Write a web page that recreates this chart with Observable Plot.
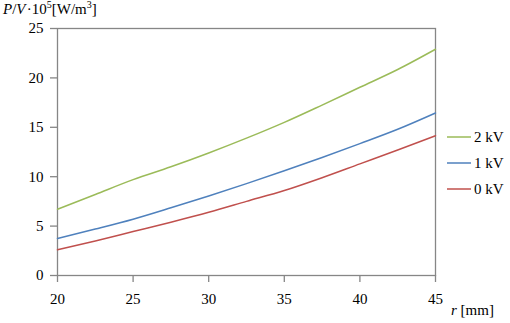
<!DOCTYPE html>
<html>
<head>
<meta charset="utf-8">
<script src="https://cdn.jsdelivr.net/npm/d3@7"></script>
<script src="https://cdn.jsdelivr.net/npm/@observablehq/plot@0.6"></script>
<style>
  html, body { margin: 0; padding: 0; background: #fff; }
  #wrap, #wrap * { font-family: "Liberation Serif", "Times New Roman", Times, serif !important; }
  #wrap { position: relative; width: 510px; height: 323px; color: #000; }
  #title { position: absolute; left: 3px; top: 1px; font-size: 15px; white-space: nowrap; }
  #xlabel { position: absolute; left: 451px; top: 302px; font-size: 15px; white-space: nowrap; }
  #legend { position: absolute; left: 447px; top: 124px; font-size: 15px; }
  .lg { display: flex; align-items: center; height: 26px; white-space: nowrap; }
  .lg svg { margin-right: 3px; }
  sup { font-size: 10px; vertical-align: 6px; line-height: 0; }
  #chart svg text { font-size: 15px; }
</style>
</head>
<body>
<div id="wrap">
  <div id="chart"></div>
  <div id="title"><i>P</i>/<i>V</i>&#8202;·10<sup>5</sup>[W/m<sup>3</sup>]</div>
  <div id="xlabel"><i>r</i> [mm]</div>
  <div id="legend"></div>
</div>
<script>
const r = [20, 22.5, 25, 27.5, 30, 32.5, 35, 37.5, 40, 42.5, 45];
const kV2 = [6.7, 8.2, 9.7, 11.0, 12.4, 13.9, 15.5, 17.25, 19.05, 20.85, 22.9];
const kV1 = [3.75, 4.7, 5.7, 6.85, 8.05, 9.3, 10.6, 11.95, 13.35, 14.8, 16.45];
const kV0 = [2.6, 3.5, 4.45, 5.4, 6.4, 7.5, 8.6, 9.9, 11.3, 12.7, 14.15];
const seriesNames = ["2 kV", "1 kV", "0 kV"];
const seriesColors = ["#9bbb59", "#4f81bd", "#c0504d"];
const xTicks = [20, 25, 30, 35, 40, 45];
const yTicks = [0, 5, 10, 15, 20, 25];

const seriesValues = [kV2, kV1, kV0];
const data = [];
seriesNames.forEach((name, i) => {
  r.forEach((x, j) => data.push({ r: x, v: seriesValues[i][j], s: name }));
});

const axisGray = "#868686";
const chart = Plot.plot({
  width: 510,
  height: 323,
  marginLeft: 57,
  marginRight: 75,
  marginTop: 28,
  marginBottom: 48,
  style: { fontFamily: "'Liberation Serif', 'Times New Roman', serif", fontSize: "15px", color: "#000", background: "#fff" },
  x: { domain: [20, 45] },
  y: { domain: [0, 25] },
  color: { domain: seriesNames, range: seriesColors },
  marks: [
    Plot.frame({ stroke: axisGray, strokeWidth: 1.3 }),
    Plot.axisX(xTicks, { tickSize: 7, tickPadding: 11, stroke: axisGray, strokeWidth: 1.3, fill: "#000", label: null }),
    Plot.axisY(yTicks, { tickSize: 7, tickPadding: 7, stroke: axisGray, strokeWidth: 1.3, fill: "#000", label: null }),
    Plot.line(data, { x: "r", y: "v", z: "s", stroke: "s", strokeWidth: 1.5, curve: "monotone-x" })
  ]
});
document.getElementById("chart").appendChild(chart);

const legend = document.getElementById("legend");
seriesNames.forEach((name, i) => {
  const row = document.createElement("div");
  row.className = "lg";
  row.innerHTML = `<svg width="24" height="4"><line x1="0" y1="2" x2="24" y2="2" stroke="${seriesColors[i]}" stroke-width="1.5"/></svg><span>${name}</span>`;
  legend.appendChild(row);
});
</script>
</body>
</html>
